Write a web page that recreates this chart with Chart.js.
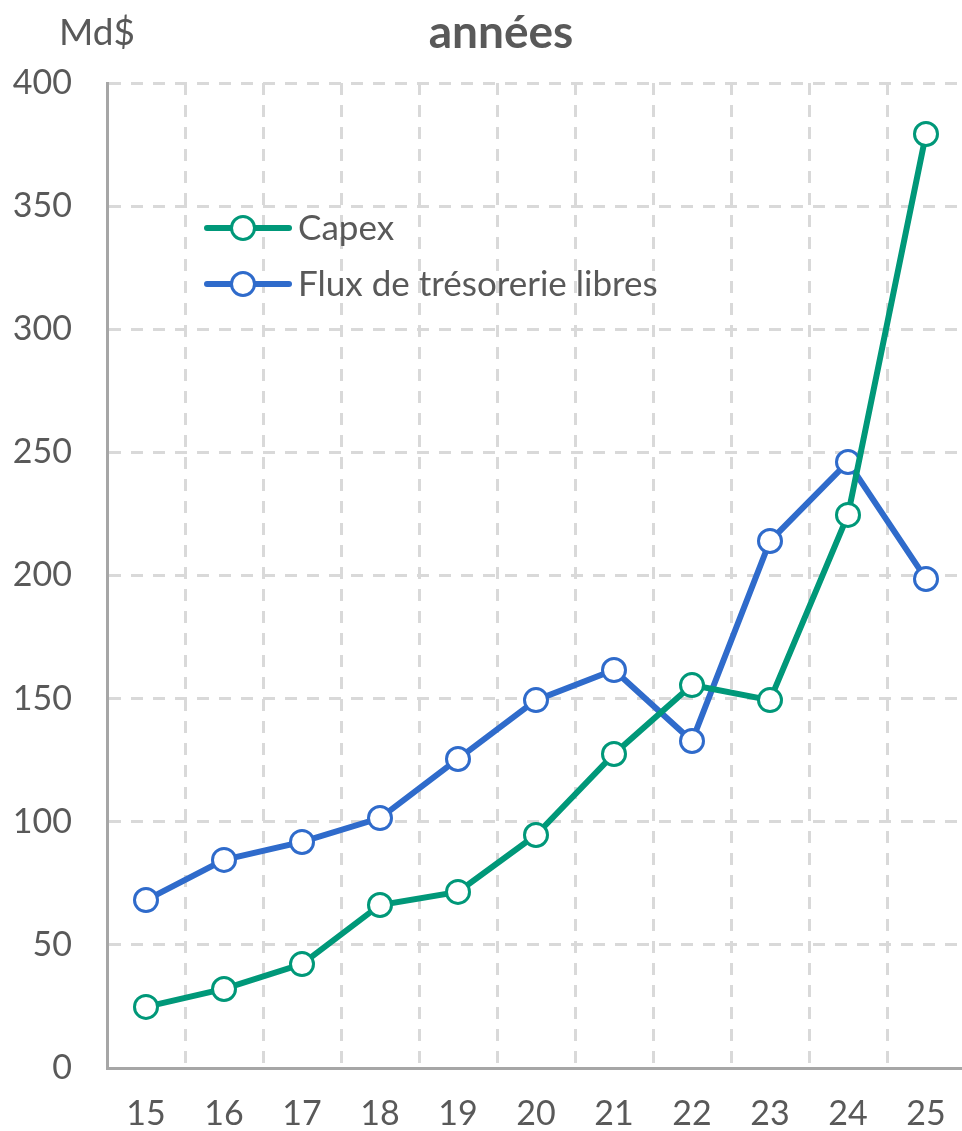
<!DOCTYPE html>
<html>
<head>
<meta charset="utf-8">
<script src="https://cdn.jsdelivr.net/npm/chart.js@4"></script>
<style>
html,body{margin:0;padding:0;background:#fff;overflow:hidden;}
#wrap{width:962px;height:1131px;overflow:hidden;position:relative;}
canvas{display:block;}
</style>
</head>
<body>
<div id="wrap"><canvas id="c" width="1000" height="1131"></canvas></div>
<script>
const categories = ['15','16','17','18','19','20','21','22','23','24','25'];
const capex = [24.8, 32.1, 42.2, 66.2, 71.5, 94.6, 127.5, 155.5, 149.4, 224.6, 379.3];
const freeCashFlow = [68.2, 84.5, 91.8, 101.5, 125.5, 149.4, 161.6, 132.8, 214.0, 246.1, 198.6];
const seriesNames = ['Capex', 'Flux de trésorerie libres'];
const yTicks = [0, 50, 100, 150, 200, 250, 300, 350, 400];
const titleText = 'années';
const unitText = 'Md$';

const GREEN = '#009879';
const BLUE = '#2F6BCB';
const TXT = '#595959';
const FONT = 'Lato, "Open Sans", sans-serif';

const textPlugin = {
  id: 'texts',
  afterDraw(chart) {
    const ctx = chart.ctx;
    ctx.save();
    ctx.fillStyle = TXT;
    ctx.textBaseline = 'middle';
    ctx.font = 'bold 46px ' + FONT;
    ctx.textAlign = 'center';
    ctx.fillText(titleText, 501, 33);
    ctx.font = '37px ' + FONT;
    ctx.textAlign = 'left';
    ctx.fillText(unitText, 59, 33);
    // legend
    const ys = [228, 284];
    chart.data.datasets.forEach((ds, i) => {
      const y = ys[i];
      ctx.strokeStyle = ds.borderColor;
      ctx.lineWidth = 6;
      ctx.lineCap = 'round';
      ctx.beginPath(); ctx.moveTo(207, y); ctx.lineTo(289, y); ctx.stroke();
      ctx.beginPath(); ctx.arc(243, y, 11.5, 0, Math.PI * 2);
      ctx.fillStyle = '#fff'; ctx.fill();
      ctx.lineWidth = 3; ctx.stroke();
      ctx.fillStyle = TXT;
      ctx.font = '35px ' + FONT;
      ctx.textAlign = 'left';
      ctx.fillText(ds.label, 298, y + 1);
    });
    ctx.restore();
  }
};

new Chart(document.getElementById('c'), {
  type: 'line',
  data: {
    labels: categories,
    datasets: [
      { label: seriesNames[0], data: capex, borderColor: GREEN, backgroundColor: '#fff',
        borderWidth: 6, pointRadius: 11.5, pointBorderWidth: 3, pointBackgroundColor: '#fff', pointBorderColor: GREEN, tension: 0 },
      { label: seriesNames[1], data: freeCashFlow, borderColor: BLUE, backgroundColor: '#fff',
        borderWidth: 6, pointRadius: 11.5, pointBorderWidth: 3, pointBackgroundColor: '#fff', pointBorderColor: BLUE, tension: 0 }
    ]
  },
  options: {
    responsive: false,
    animation: false,
    layout: { padding: { top: 83, right: 35, left: 0, bottom: 0 } },
    plugins: { legend: { display: false }, title: { display: false }, tooltip: { enabled: false } },
    scales: {
      x: {
        offset: true,
        grid: { offset: true, color: '#D9D9D9', lineWidth: 3, drawTicks: false },
        border: { display: true, color: '#A6A6A6', width: 3, dash: [12, 10] },
        ticks: { color: TXT, font: { family: FONT, size: 34 }, padding: 26, maxRotation: 0 },
        afterFit(s) { s.height = 63; }
      },
      y: {
        min: 0, max: 400,
        afterBuildTicks(s) { s.ticks = yTicks.map(v => ({ value: v })); },
        grid: { color: '#D9D9D9', lineWidth: 3, drawTicks: false },
        border: { display: true, color: '#A6A6A6', width: 3, dash: [12, 10] },
        ticks: { color: TXT, font: { family: FONT, size: 34 }, padding: 35 },
        afterFit(s) { s.width = 107; }
      }
    }
  },
  plugins: [textPlugin]
});
</script>
</body>
</html>
